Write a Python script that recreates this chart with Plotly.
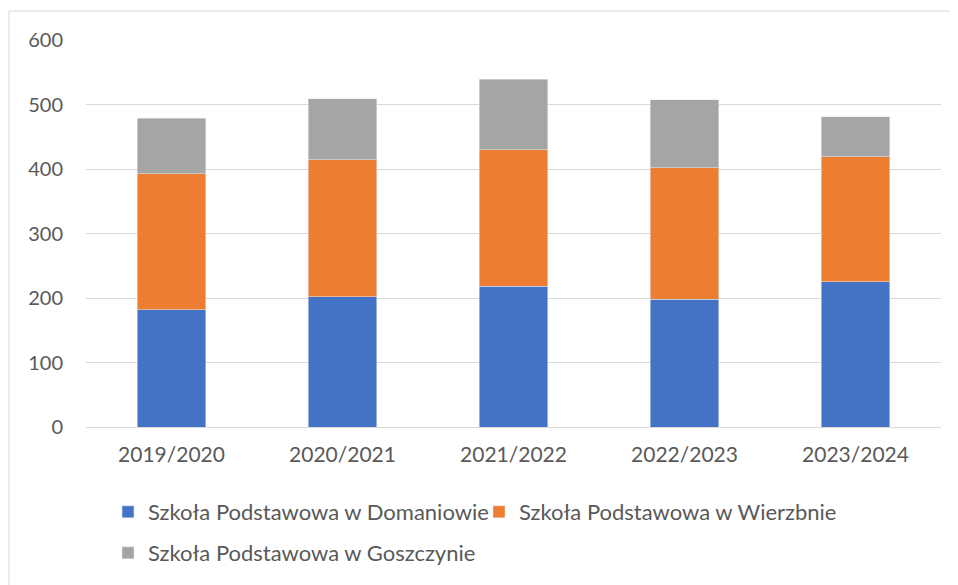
import plotly.graph_objects as go

years = ["2019/2020", "2020/2021", "2021/2022", "2022/2023", "2023/2024"]
domaniow = [182, 202, 218, 198, 225]
wierzbica = [211, 212, 212, 204, 194]
goszczyn = [86, 95, 109, 105, 62]
yticks = [0, 100, 200, 300, 400, 500, 600]

names = ["Szkoła Podstawowa w Domaniowie", "Szkoła Podstawowa w Wierzbnie", "Szkoła Podstawowa w Goszczynie"]
colors = ["#4472C4", "#ED7D31", "#A5A5A5"]

FONT = "Lato"
TXT = "#595959"

fig = go.Figure()
fig.add_trace(go.Bar(x=years, y=domaniow, name=names[0], marker_color=colors[0],
                     legend="legend", showlegend=True))
fig.add_trace(go.Bar(x=years, y=wierzbica, name=names[1], marker_color=colors[1],
                     legend="legend2", showlegend=True))
fig.add_trace(go.Bar(x=years, y=goszczyn, name=names[2], marker_color=colors[2],
                     legend="legend3", showlegend=True))

# page is shown with an 8px body margin; positions below are page pixels
OFF = 8
W, H = 958, 585
L, T = 86 - OFF, 40 - OFF
pw, ph = 855, 387
R = W - L - pw
B = H - T - ph

def px_x(p):
    return (p - OFF - L) / pw

def px_y(p):
    return (T + ph - (p - OFF)) / ph

def leg(xp, yp):
    return dict(orientation="h", x=px_x(xp), xanchor="left", y=px_y(yp), yanchor="middle",
                font=dict(size=22, color=TXT), bgcolor="rgba(0,0,0,0)", itemwidth=30)

fig.update_layout(
    width=W, height=H,
    showlegend=True,
    margin=dict(l=L, r=R, t=T, b=B, autoexpand=False),
    barmode="stack", bargap=0.6,
    paper_bgcolor="white", plot_bgcolor="white",
    font=dict(family=FONT, size=20, color=TXT),
    xaxis=dict(showgrid=False, showline=True, linecolor="#d9d9d9", linewidth=1,
               ticks="", ticklabelstandoff=9, tickfont=dict(size=21, color=TXT)),
    yaxis=dict(range=[0, 600], tickvals=yticks, showgrid=True, gridcolor="#d9d9d9",
               gridwidth=1, zeroline=False, showline=False, ticks="",
               ticklabelstandoff=22, tickfont=dict(size=20, color=TXT)),
    legend=leg(108, 512),
    legend2=leg(479, 512),
    legend3=leg(108, 553),
    shapes=[dict(type="rect", xref="paper", yref="paper",
                 x0=px_x(9), x1=px_x(W + 20), y0=px_y(H + 20), y1=px_y(11),
                 line=dict(color="#d9d9d9", width=1), fillcolor="rgba(0,0,0,0)", layer="below")],
)

fig.write_html("out.html")
